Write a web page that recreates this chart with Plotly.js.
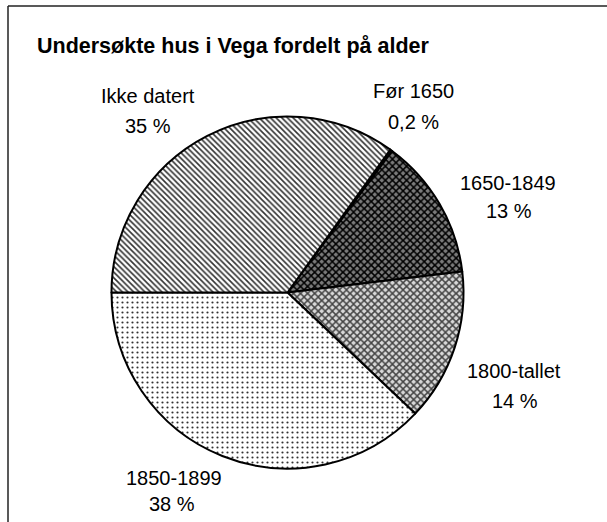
<!DOCTYPE html>
<html>
<head>
<meta charset="utf-8">
<script src="https://cdn.plot.ly/plotly-3.0.1.min.js"></script>
<style>html,body{margin:0;padding:0;background:#fff;}#chart{width:607px;height:522px;}</style>
</head>
<body>
<div id="chart"></div>
<script>
const categories = ["Før 1650", "1650-1849", "1800-tallet", "1850-1899", "Ikke datert"];
const values = [0.2, 13, 14, 38, 35];
const percentLabels = ["0,2 %", "13 %", "14 %", "38 %", "35 %"];
const chartTitle = "Undersøkte hus i Vega fordelt på alder";

const W = 607, H = 522;
const px = x => x / W;
const py = y => 1 - y / H;

// label anchor points (pixel) for name line and percent line
const labelPos = [
  [413, 91, 413, 122],
  [508, 183, 509, 211],
  [514, 371, 515, 401],
  [174, 478, 172, 504],
  [148, 96, 148, 126]
];

const patterns = [
  {shape: "|", fgcolor: "#000", bgcolor: "#fff", size: 4, solidity: 0.3},
  {shape: "x", fgcolor: "#000", bgcolor: "#7a7a7a", size: 5, solidity: 0.5},
  {shape: "x", fgcolor: "#444", bgcolor: "#d8d8d8", size: 5, solidity: 0.5},
  {shape: ".", fgcolor: "#333", bgcolor: "#fff", size: 5, solidity: 0.15},
  {shape: "\\", fgcolor: "#333", bgcolor: "#fff", size: 4, solidity: 0.4}
];

const trace = {
  type: "pie",
  labels: categories,
  values: values,
  sort: false,
  direction: "clockwise",
  rotation: 35.75,
  textinfo: "none",
  hoverinfo: "label+percent",
  showlegend: false,
  domain: {x: [px(111.5), px(463.5)], y: [py(468.5), py(116.5)]},
  marker: {
    colors: ["#fff", "#7a7a7a", "#d8d8d8", "#fff", "#fff"],
    pattern: {
      shape: patterns.map(p => p.shape),
      fgcolor: patterns.map(p => p.fgcolor),
      bgcolor: patterns.map(p => p.bgcolor),
      size: patterns.map(p => p.size),
      solidity: patterns.map(p => p.solidity),
      fillmode: "replace"
    },
    line: {color: "#000", width: 2}
  }
};

const font = {family: "Liberation Sans, Arial, sans-serif", size: 20, color: "#000"};
const annotations = [];
categories.forEach((c, i) => {
  const p = labelPos[i];
  annotations.push({text: c, x: px(p[0]), y: py(p[1]), xref: "paper", yref: "paper", xanchor: "center", yanchor: "middle", showarrow: false, font: font});
  annotations.push({text: percentLabels[i], x: px(p[2]), y: py(p[3]), xref: "paper", yref: "paper", xanchor: "center", yanchor: "middle", showarrow: false, font: font});
});

const layout = {
  width: W, height: H,
  margin: {l: 0, r: 0, t: 0, b: 0},
  paper_bgcolor: "#fff",
  title: {
    text: "<b>" + chartTitle + "</b>",
    x: px(37), xanchor: "left", xref: "paper",
    y: py(45), yanchor: "middle", yref: "paper",
    font: {family: "Liberation Sans, Arial, sans-serif", size: 21.5, color: "#000"}
  },
  annotations: annotations,
  shapes: [
    {type: "line", xref: "paper", yref: "paper", x0: px(8), y0: py(6), x1: 1, y1: py(6), line: {color: "#222", width: 1.5}},
    {type: "line", xref: "paper", yref: "paper", x0: px(8), y0: py(6), x1: px(8), y1: 0, line: {color: "#222", width: 1.5}}
  ]
};

Plotly.newPlot("chart", [trace], layout, {displayModeBar: false, staticPlot: true});
</script>
</body>
</html>
